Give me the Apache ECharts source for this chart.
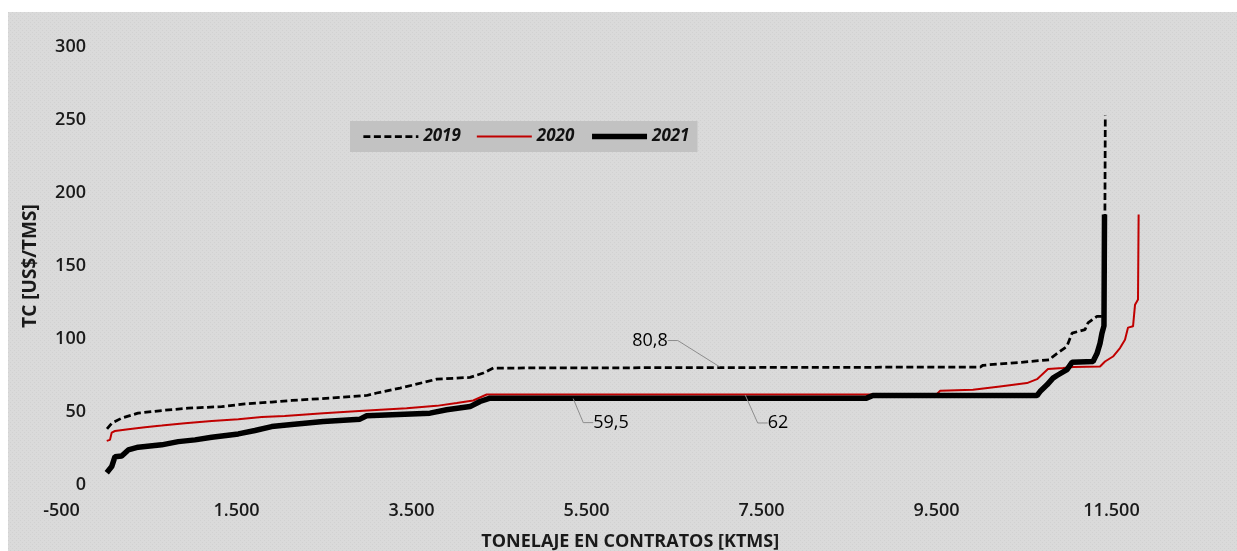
<!DOCTYPE html>
<html>
<head>
<meta charset="utf-8">
<script src="https://cdn.jsdelivr.net/npm/echarts@6/dist/echarts.min.js"></script>
<style>
  html, body { margin: 0; padding: 0; background: #ffffff; }
  #bg { position: absolute; left: 8px; top: 12px; width: 1229px; height: 539px; background-color: #d9d9d9; }
  #chart { position: absolute; left: 0; top: 0; width: 1237px; height: 551px; }
</style>
</head>
<body>
<div id="bg"></div>
<div id="chart"></div>
<script>
// ---- Data ----
const seriesNames = ['2019', '2020', '2021'];

const data2019 = [
  [20, 38.4], [74, 42.3], [188, 45.8], [374, 49.2], [645, 51], [946, 52.6], [1331, 53.7],
  [1597, 55.6], [1902, 56.8], [2131, 57.9], [2569, 59.5], [2988, 61.3], [3102, 63],
  [3369, 66.4], [3635, 70.2], [3788, 72.5], [4169, 73.7], [4321, 76.7], [4435, 80.1],
  [4454, 80.8], [10000, 80.8], [10031, 82], [10454, 84], [10797, 85.8], [10831, 88],
  [10991, 95], [11049, 104], [11197, 106.4], [11231, 111], [11334, 115.5], [11420, 115.5],
  [11429, 253]
];

const data2020 = [
  [17, 30.2], [54, 30.9], [74, 35.9], [111, 37], [263, 38.2], [454, 39.6], [645, 40.7],
  [911, 42.3], [1217, 43.9], [1521, 45.1], [1788, 46.5], [2050, 47.2], [2492, 49.2],
  [2949, 50.8], [3445, 52.6], [3788, 54.2], [4017, 56.1], [4206, 57.9], [4359, 62],
  [9500, 62], [9540, 64.5], [9917, 65.2], [10226, 67.5], [10534, 69.8], [10649, 72.5],
  [10774, 79.4], [10946, 80.1], [11060, 80.8], [11369, 81.2], [11426, 84.6], [11517, 88],
  [11597, 93.8], [11654, 99.5], [11689, 107.8], [11746, 108.7], [11769, 123.5],
  [11803, 127], [11810, 185.3]
];

const data2021 = [
  [17, 8.4], [74, 12.6], [111, 19.4], [188, 19.9], [263, 24], [377, 25.9], [645, 27.5],
  [835, 29.7], [1026, 30.9], [1217, 32.7], [1521, 35], [1711, 37.3], [1902, 40],
  [2131, 41.5], [2492, 43.5], [2911, 45.1], [2988, 47.4], [3711, 49.2], [3902, 51.5],
  [4169, 53.7], [4283, 57.2], [4397, 59.5], [8700, 59.5], [8774, 61.3], [10649, 61.3],
  [10683, 64], [10763, 68.6], [10831, 73.2], [10877, 75], [10991, 79], [11049, 84],
  [11289, 84.6], [11334, 90], [11369, 97], [11391, 104], [11414, 109], [11420, 185.3]
];

// Data-label annotations
const annX = [7026, 5346, 7311];
const annY = [80.8, 59.5, 62];
const annText = ['80,8', '59,5', '62'];

// Axis settings
const xMin = -500, xMax = 12500, xStep = 2000;
const yMin = 0, yMax = 300, yStep = 50;
const xTitle = 'TONELAJE EN CONTRATOS [KTMS]';
const yTitle = 'TC [US$/TMS]';

// subtle dotted background texture
(function () {
  const c = document.createElement('canvas');
  c.width = 4; c.height = 4;
  const g = c.getContext('2d');
  g.fillStyle = '#dadada'; g.fillRect(0, 0, 4, 4);
  g.fillStyle = '#d1d1d1'; g.fillRect(0, 0, 1, 1); g.fillRect(2, 2, 1, 1);
  document.getElementById('bg').style.backgroundImage = 'url(' + c.toDataURL() + ')';
})();

// ---- Chart ----
const FONT = '"Open Sans", "DejaVu Sans", sans-serif';
const chart = echarts.init(document.getElementById('chart'), null, { renderer: 'canvas' });

// label offsets (layout only)
const annOffsets = [[-70, -26], [38, 25], [33, 29]];
const hiddenSym = { opacity: 0, color: 'rgba(0,0,0,0)', borderWidth: 0 };

const option = {
  animation: false,
  backgroundColor: 'transparent',
  grid: { left: 61.5, right: 38, top: 47, bottom: 66, containLabel: false, outerBoundsMode: 'none' },
  legend: {
    left: 350, top: 121,
    padding: [7, 8, 7, 12],
    itemGap: 15, itemWidth: 55, itemHeight: 14,
    backgroundColor: '#c2c2c2',
    textStyle: { fontFamily: FONT, fontSize: 17, fontStyle: 'italic', fontWeight: 'bold', color: '#111' },
    data: [
      { name: '2019', itemStyle: hiddenSym, lineStyle: { width: 2.75, type: [7, 3.5], color: '#000' } },
      { name: '2020', itemStyle: hiddenSym, lineStyle: { width: 2, color: '#c00000' } },
      { name: '2021', itemStyle: hiddenSym, lineStyle: { width: 5.5, color: '#000' } }
    ]
  },
  xAxis: {
    type: 'value', min: xMin, max: xMax, interval: xStep,
    name: xTitle, nameLocation: 'middle', nameGap: 48,
    nameTextStyle: { fontFamily: FONT, fontSize: 18, fontWeight: 'bold', color: '#1a1a1a' },
    axisLine: { show: false, onZero: false },
    axisTick: { show: false },
    splitLine: { show: false },
    axisLabel: {
      margin: 17, fontFamily: FONT, fontSize: 18, fontWeight: 600, color: '#1a1a1a',
      showMaxLabel: false,
      formatter: function (v) {
        if (((v - xMin) % xStep) !== 0) return '';
        return echarts.format.addCommas(v).replace(/,/g, '.');
      }
    }
  },
  yAxis: {
    type: 'value', min: yMin, max: yMax, interval: yStep,
    name: yTitle, nameLocation: 'middle', nameGap: 21, nameRotate: 90,
    nameTextStyle: { fontFamily: FONT, fontSize: 19, fontWeight: 'bold', color: '#1a1a1a' },
    axisLine: { show: false, onZero: false },
    axisTick: { show: false },
    splitLine: { show: false },
    axisLabel: { margin: -24.5, fontFamily: FONT, fontSize: 18, fontWeight: 600, color: '#1a1a1a', align: 'right' }
  },
  series: [
    {
      name: seriesNames[0], type: 'line', data: data2019, symbol: 'none', silent: true,
      lineStyle: { color: '#000', width: 2.75, type: [7, 3.5] }, itemStyle: { color: '#000' }, z: 2
    },
    {
      name: seriesNames[1], type: 'line', data: data2020, symbol: 'none', silent: true,
      lineStyle: { color: '#c00000', width: 2 }, itemStyle: { color: '#c00000' }, z: 3
    },
    {
      name: seriesNames[2], type: 'line', data: data2021, symbol: 'none', silent: true,
      lineStyle: { color: '#000', width: 5.5 }, itemStyle: { color: '#000' }, z: 4
    },
    {
      name: 'labels', type: 'scatter', silent: true, z: 6,
      symbol: 'circle', symbolSize: 1,
      itemStyle: { color: 'rgba(0,0,0,0)' },
      data: annX.map((x, i) => [x, annY[i], annText[i]]),
      label: {
        show: true, position: 'top', distance: 0,
        formatter: p => p.value[2],
        fontFamily: FONT, fontSize: 18, fontWeight: 500, color: '#000', opacity: 1,
        padding: [0, 4, 0, 4]
      },
      labelLine: { show: true, length2: 10, minTurnAngle: 0, lineStyle: { color: '#8c8c8c', width: 1 } },
      labelLayout: function (params) {
        const o = annOffsets[params.dataIndex];
        return { dx: o[0], dy: o[1] + 9 };
      }
    }
  ]
};
chart.setOption(option);
</script>
</body>
</html>
